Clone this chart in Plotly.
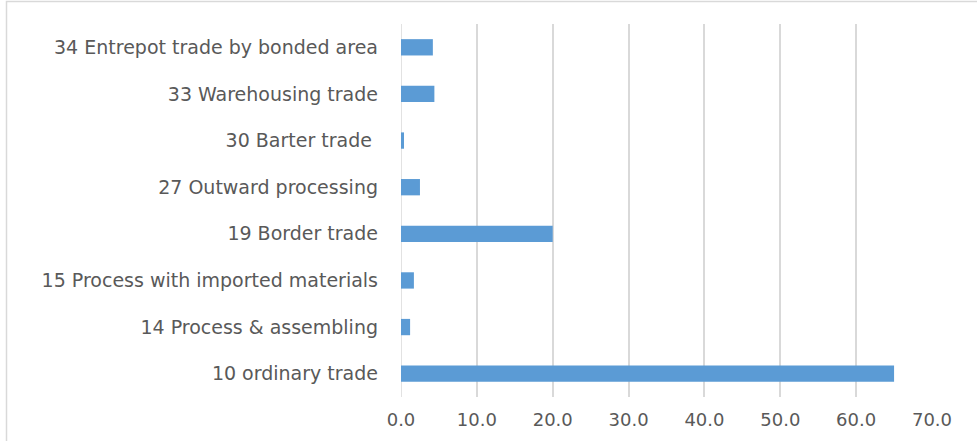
import plotly.graph_objects as go

categories = [
    "10 ordinary trade",
    "14 Process & assembling",
    "15 Process with imported materials",
    "19 Border trade",
    "27 Outward processing",
    "30 Barter trade ",
    "33 Warehousing trade",
    "34 Entrepot trade by bonded area",
]
values = [65.0, 1.2, 1.7, 20.0, 2.5, 0.4, 4.4, 4.2]
x_ticks = [0, 10, 20, 30, 40, 50, 60, 70]

W, H = 977, 441
ml, mr, mt, mb = 401, 45, 24, 44
pw = W - ml - mr
ph = H - mt - mb

fig = go.Figure()
fig.add_trace(go.Bar(
    x=values, y=categories, orientation="h",
    marker=dict(color="#5B9BD5", line=dict(width=0)),
))

def px2paper_x(p):
    return (p - ml) / pw

def px2paper_y(p):
    return (H - mb - p) / ph

fig.update_layout(
    width=W, height=H,
    margin=dict(l=ml, r=mr, t=mt, b=mb, pad=0),
    paper_bgcolor="white", plot_bgcolor="white",
    bargap=0.65, showlegend=False,
    font=dict(family="DejaVu Sans", color="#595959", size=17),
    xaxis=dict(
        range=[0, 70], tickvals=x_ticks, tickformat=".1f",
        showgrid=True, gridcolor="#D9D9D9", gridwidth=1.5,
        zeroline=False, showline=False, ticks="",
        ticklabelstandoff=10,
        tickfont=dict(size=18, color="#595959"),
        fixedrange=True,
    ),
    yaxis=dict(
        showgrid=False, zeroline=False, showline=False, ticks="",
        ticklabelstandoff=22,
        tickfont=dict(size=19, color="#595959"),
        fixedrange=True,
    ),
    shapes=[
        dict(type="rect", xref="paper", yref="paper",
             x0=px2paper_x(6.5), x1=px2paper_x(990),
             y0=px2paper_y(450), y1=px2paper_y(1.5),
             line=dict(color="#D9D9D9", width=1.5), fillcolor="rgba(0,0,0,0)",
             layer="below"),
        dict(type="line", xref="x", yref="paper", x0=0, x1=0, y0=0, y1=1,
             line=dict(color="#D9D9D9", width=1.5), layer="below"),
    ],
)

fig.write_html("out.html")
